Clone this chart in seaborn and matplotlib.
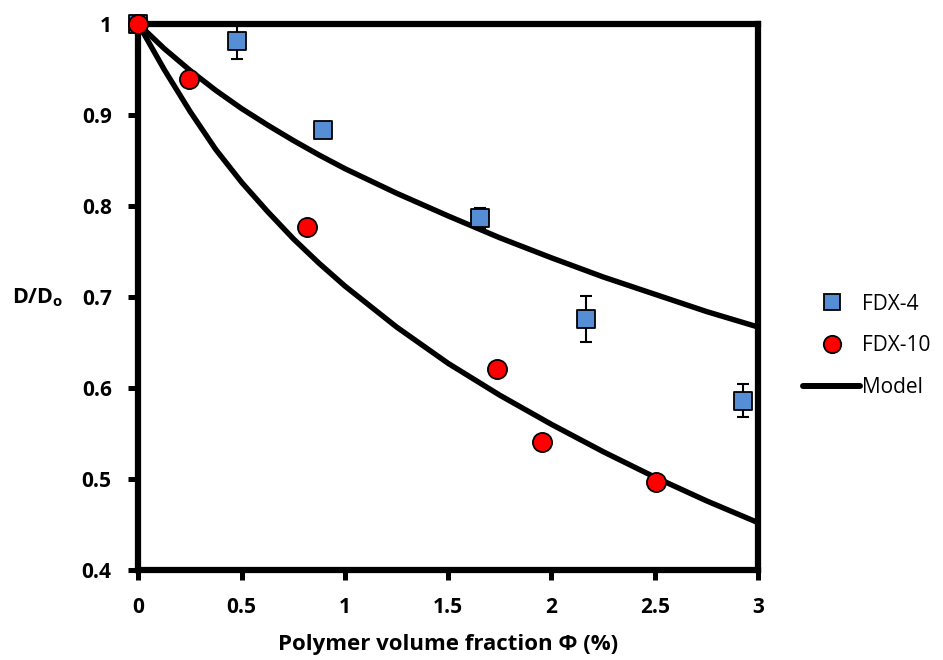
import matplotlib
matplotlib.use("Agg")
import matplotlib.pyplot as plt
from matplotlib.lines import Line2D
import pandas as pd
import seaborn as sns

# measured data
phi_fdx4 = [0.0, 0.48, 0.895, 1.655, 2.165, 2.925]
d_fdx4 = [1.0, 0.981, 0.883, 0.787, 0.676, 0.586]
err_fdx4 = [0.0, 0.019, 0.0, 0.011, 0.025, 0.018]

phi_fdx10 = [0.0, 0.247, 0.815, 1.734, 1.956, 2.505]
d_fdx10 = [1.0, 0.939, 0.777, 0.621, 0.541, 0.497]

# model curves
phi_model = [0.0, 0.125, 0.25, 0.375, 0.5, 0.625, 0.75, 0.875, 1.0,
             1.25, 1.5, 1.75, 2.0, 2.25, 2.5, 2.75, 3.0]
model_fdx4 = [1.0, 0.973, 0.949, 0.927, 0.907, 0.889, 0.872, 0.856, 0.841,
              0.814, 0.789, 0.765, 0.743, 0.722, 0.703, 0.684, 0.667]
model_fdx10 = [1.0, 0.950, 0.904, 0.862, 0.826, 0.794, 0.764, 0.737, 0.712,
               0.667, 0.627, 0.592, 0.560, 0.530, 0.502, 0.476, 0.452]

x_ticks = [0, 0.5, 1, 1.5, 2, 2.5, 3]
x_ticklabels = ["0", "0.5", "1", "1.5", "2", "2.5", "3"]
y_ticks = [0.4, 0.5, 0.6, 0.7, 0.8, 0.9, 1.0]
y_ticklabels = ["0.4", "0.5", "0.6", "0.7", "0.8", "0.9", "1"]

BLUE = "#558ED5"
RED = "#FF0000"
FONT = ["Open Sans", "DejaVu Sans"]

sns.set_style("white")
plt.rcParams["font.family"] = FONT
plt.rcParams["text.color"] = "black"
plt.rcParams["axes.labelcolor"] = "black"
plt.rcParams["xtick.color"] = "black"
plt.rcParams["ytick.color"] = "black"
plt.rcParams["mathtext.fontset"] = "custom"
plt.rcParams["mathtext.bf"] = "Open Sans:bold"
plt.rcParams["mathtext.rm"] = "Open Sans"

fig = plt.figure(figsize=(9.43, 6.6), dpi=100)
ax = fig.add_axes([0.1467, 0.1364, 0.6572, 0.8273])

df_model = pd.DataFrame({
    "phi": phi_model * 2,
    "D": model_fdx4 + model_fdx10,
    "curve": ["FDX-4"] * len(phi_model) + ["FDX-10"] * len(phi_model),
})
sns.lineplot(data=df_model, x="phi", y="D", units="curve", estimator=None,
             color="black", linewidth=3.9, sort=False, ax=ax, legend=False,
             solid_joinstyle="round", solid_capstyle="round")

ax.errorbar(phi_fdx4, d_fdx4, yerr=err_fdx4, fmt="none", ecolor="black",
            elinewidth=1.5, capsize=4.2, capthick=1.5, zorder=3)

sns.scatterplot(x=phi_fdx4, y=d_fdx4, marker="s", s=185, color=BLUE,
                edgecolor="black", linewidth=1.3, ax=ax, zorder=4, clip_on=False)
sns.scatterplot(x=phi_fdx10, y=d_fdx10, marker="o", s=190, color=RED,
                edgecolor="black", linewidth=1.3, ax=ax, zorder=5, clip_on=False)

ax.set_xlim(0, 3)
ax.set_ylim(0.4, 1.0)
ax.set_xticks(x_ticks)
ax.set_xticklabels(x_ticklabels, fontsize=15, fontweight="bold")
ax.set_yticks(y_ticks)
ax.set_yticklabels(y_ticklabels, fontsize=15, fontweight="bold")
ax.tick_params(axis="both", direction="out", length=7.2, width=3.6,
               left=True, bottom=True)
ax.tick_params(axis="x", pad=12)
ax.tick_params(axis="y", pad=12)

for sp in ax.spines.values():
    sp.set_linewidth(4.5)
    sp.set_color("black")
    sp.set_zorder(2)

ax.set_xlabel("Polymer volume fraction Φ (%)", fontsize=16, fontweight="bold", labelpad=12)
ax.set_ylabel(r"$\mathbf{D/D_o}$", fontsize=15.5, rotation=0, ha="center", va="center")
ax.yaxis.set_label_coords(-0.162, 0.498)

handles = [
    Line2D([], [], marker="s", linestyle="none", markersize=12, markerfacecolor=BLUE,
           markeredgecolor="black", markeredgewidth=1.3),
    Line2D([], [], marker="o", linestyle="none", markersize=12.5, markerfacecolor=RED,
           markeredgecolor="black", markeredgewidth=1.3),
    Line2D([], [], color="black", linewidth=4.3),
]
fig.legend(handles, ["FDX-4", "FDX-10", "Model"], loc="center left",
           bbox_to_anchor=(0.8515, 0.476), frameon=False, fontsize=15,
           handlelength=2.74, handletextpad=0.1, labelspacing=1.0, borderpad=0,
           borderaxespad=0)

fig.savefig("out.png", dpi=100)
